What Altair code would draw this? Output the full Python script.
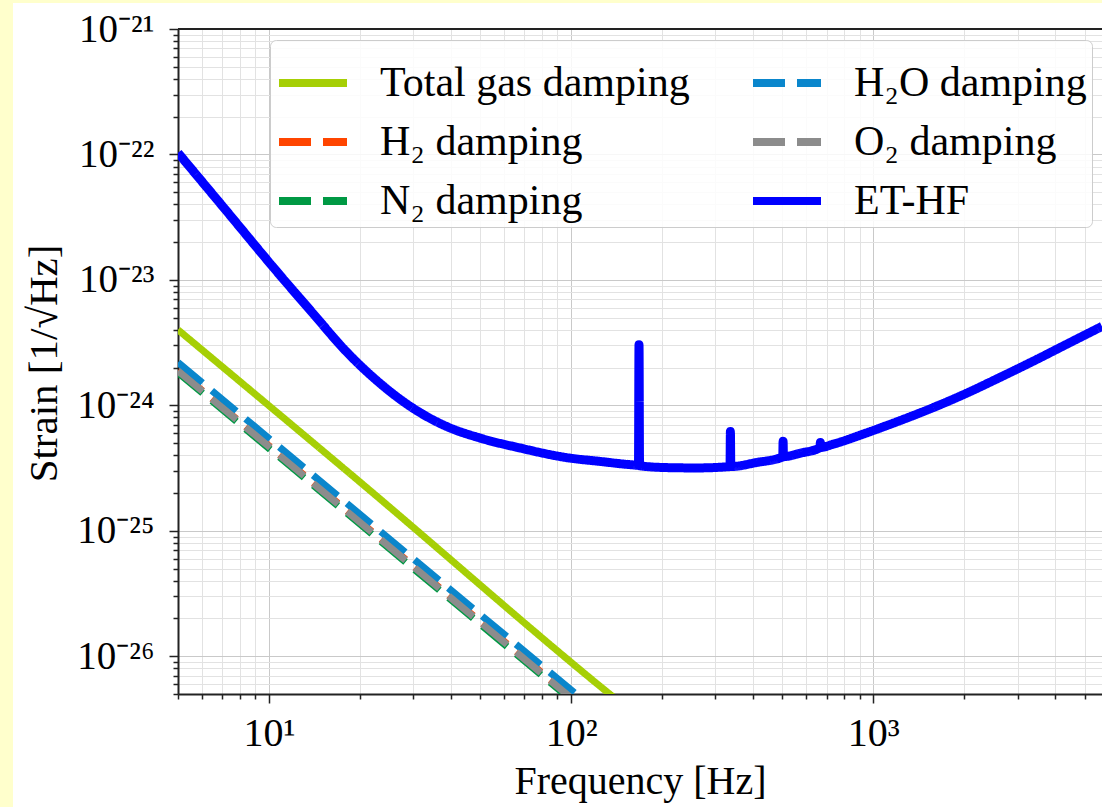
import altair as alt
import pandas as pd

# ---------------- data ----------------
series_order = ["Total gas damping", "H₂ damping", "N₂ damping", "H₂O damping", "O₂ damping", "ET-HF"]
series_colors = ["#a6cf05", "#ff4500", "#009944", "#0a86cc", "#8c8c8c", "#0000ff"]
series_dashes = [[1, 0], [32, 12], [32, 12], [32, 12], [32, 12], [1, 0]]

# damping curves (frequency in Hz, strain in 1/sqrt(Hz))
total_f = [5.0, 20.0, 134.0, 200.0]
total_s = [4.0e-24, 2.45e-25, 5.0e-27, 2.3e-27]
h2_f = [5.0, 200.0]
h2_s = [1.9e-24, 1.18e-27]
n2_f = [5.0, 200.0]
n2_s = [1.82e-24, 1.12e-27]
h2o_f = [5.0, 102.7, 200.0]
h2o_s = [2.2e-24, 5.1e-27, 1.35e-27]
o2_f = [5.0, 200.0]
o2_s = [1.88e-24, 1.16e-27]

# ET-HF sensitivity curve
et_f = [5.0, 7.0, 10.84, 13.96, 18.01, 23.22, 29.94, 38.63, 49.8, 67.5, 98.8, 123.7,
        156.0, 167.0, 167.7, 168.4, 206.6, 260.0, 335.5, 336.5, 337.5, 410.0,
        501.5, 502.7, 504.0, 571.0, 666.0, 668.0, 670.0, 736.0, 949.0, 1224.0,
        1578.0, 2035.0, 2624.0, 3381.0, 4363.0, 5710.0]
et_s = [1.03e-22, 3.9e-23, 1.10e-23, 5.43e-24, 2.69e-24, 1.51e-24, 9.5e-25, 6.8e-25,
        5.5e-25, 4.58e-25, 3.8e-25, 3.58e-25,
        3.37e-25, 3.33e-25, 3.04e-24, 3.3e-25, 3.19e-25, 3.17e-25, 3.25e-25, 6.2e-25, 3.25e-25, 3.5e-25,
        3.88e-25, 5.18e-25, 3.9e-25, 4.15e-25, 4.6e-25, 5.05e-25, 4.62e-25, 4.9e-25, 6.03e-25, 7.55e-25,
        9.6e-25, 1.25e-24, 1.67e-24, 2.25e-24, 3.07e-24, 4.26e-24]

x_domain = [5.0, 5710.0]
y_domain = [5e-27, 1e-21]

x_major = [10, 100, 1000]
x_major_labels = ["10¹", "10²", "10³"]
y_exponents = [-21, -22, -23, -24, -25, -26]
y_major_labels = ["10⁻²¹", "10⁻²²", "10⁻²³", "10⁻²⁴", "10⁻²⁵", "10⁻²⁶"]

# ---------------- layout ----------------
W, H = 924, 665
PAD_L, PAD_T, PAD_B = 178, 29, 113
FONT = "Liberation Serif"

x_ticks = [m * 10 ** e for e in range(0, 4) for m in range(1, 10) if 5 <= m * 10 ** e <= 5710]
y_ticks = [float(f"{m}e{e}") for e in range(-27, -20) for m in range(1, 10)
           if 5e-27 <= float(f"{m}e{e}") <= 1e-21]
y_major = [float(f"1e{e}") for e in y_exponents]

x_label_expr = " : ".join(f"datum.value == {v} ? '{l}'" for v, l in zip(x_major, x_major_labels)) + " : ''"
y_label_expr = " : ".join(f"datum.value == {v!r} ? '{l}'" for v, l in zip(y_major, y_major_labels)) + " : ''"
x_major_test = "indexof([" + ",".join(str(v) for v in x_major) + "], datum.value) >= 0"
y_major_test = "indexof([" + ",".join(repr(v) for v in y_major) + "], datum.value) >= 0"

x_axis = alt.Axis(
    values=x_ticks, labelExpr=x_label_expr, title="Frequency [Hz]",
    titleFont=FONT, titleFontSize=40, titleFontWeight="normal", titleColor="black",
    titleY=99, titleBaseline="alphabetic",
    labelFont=FONT, labelFontSize=40, labelColor="black", labelBaseline="alphabetic",
    labelPadding=42, labelOverlap=False, labelFlush=False, labelBound=False,
    tickSize={"condition": {"test": x_major_test, "value": 9}, "value": 5},
    tickWidth=1.5, tickColor="#222222", domainColor="#222222", domainWidth=2,
    grid=True, gridWidth=1,
    gridColor={"condition": {"test": x_major_test, "value": "#c9c9c9"}, "value": "#e2e2e2"},
)
y_axis = alt.Axis(
    values=y_ticks, labelExpr=y_label_expr, title="Strain [1/√Hz]",
    titleFont=FONT, titleFontSize=41, titleFontWeight="normal", titleColor="black",
    titleX=-134, titleY=334, titleAngle=270, titleAlign="center", titleBaseline="middle",
    labelFont=FONT, labelFontSize=39, labelColor="black", labelBaseline="middle",
    labelPadding=15, labelOverlap=False, labelFlush=False, labelBound=False,
    tickSize={"condition": {"test": y_major_test, "value": 9}, "value": 5},
    tickWidth=1.5, tickColor="#222222", domainColor="#222222", domainWidth=2,
    grid=True, gridWidth=1,
    gridColor={"condition": {"test": y_major_test, "value": "#c9c9c9"}, "value": "#e2e2e2"},
)

x_enc = alt.X("f:Q", scale=alt.Scale(type="log", domain=x_domain, nice=False), axis=x_axis)
y_enc = alt.Y("s:Q", scale=alt.Scale(type="log", domain=y_domain, nice=False), axis=y_axis)

legend = alt.Legend(
    title=None, orient="none", legendX=92, legendY=11, columns=2,
    columnPadding=47, rowPadding=-15, symbolType="stroke", symbolSize=4624,
    symbolStrokeWidth=8, labelFont=FONT, labelFontSize=42, labelColor="black",
    labelOffset=29, labelLimit=600, padding=5,
    fillColor="rgba(255,255,255,0.85)", strokeColor="#cccccc", cornerRadius=6,
)
color_enc = alt.Color("series:N", scale=alt.Scale(domain=series_order, range=series_colors), legend=legend)
dash_enc = alt.StrokeDash("series:N", scale=alt.Scale(domain=series_order, range=series_dashes), legend=legend)


def line_layer(name, fs, ss, width):
    df = pd.DataFrame({"f": fs, "s": ss, "series": name})
    return alt.Chart(df).mark_line(
        strokeWidth=width, clip=True, strokeCap="butt", strokeJoin="round", interpolate="monotone"
    ).encode(x=x_enc, y=y_enc, color=color_enc, strokeDash=dash_enc)


one = pd.DataFrame({"a": [0]})
left_strip = alt.Chart(one).mark_rect(color="#ffffcc").encode(
    x=alt.value(-PAD_L), x2=alt.value(-165), y=alt.value(-PAD_T), y2=alt.value(H + PAD_B))
top_strip = alt.Chart(one).mark_rect(color="#ffffcc").encode(
    x=alt.value(-PAD_L), x2=alt.value(W), y=alt.value(-PAD_T), y2=alt.value(-26))
top_border = alt.Chart(one).mark_rule(color="#222222", strokeWidth=2).encode(
    x=alt.value(0), x2=alt.value(W), y=alt.value(0))

chart = alt.layer(
    left_strip, top_strip,
    line_layer("Total gas damping", total_f, total_s, 7),
    line_layer("H₂ damping", h2_f, h2_s, 7),
    line_layer("N₂ damping", n2_f, n2_s, 7),
    line_layer("H₂O damping", h2o_f, h2o_s, 7),
    line_layer("O₂ damping", o2_f, o2_s, 7),
    line_layer("ET-HF", et_f, et_s, 9),
    top_border,
).properties(
    width=W, height=H,
    autosize=alt.AutoSizeParams(type="none"),
    padding={"left": PAD_L, "top": PAD_T, "right": 0, "bottom": PAD_B},
    background="white",
).configure_view(stroke=None)

chart.save("out.html", embed_options={"renderer": "svg", "actions": False})
